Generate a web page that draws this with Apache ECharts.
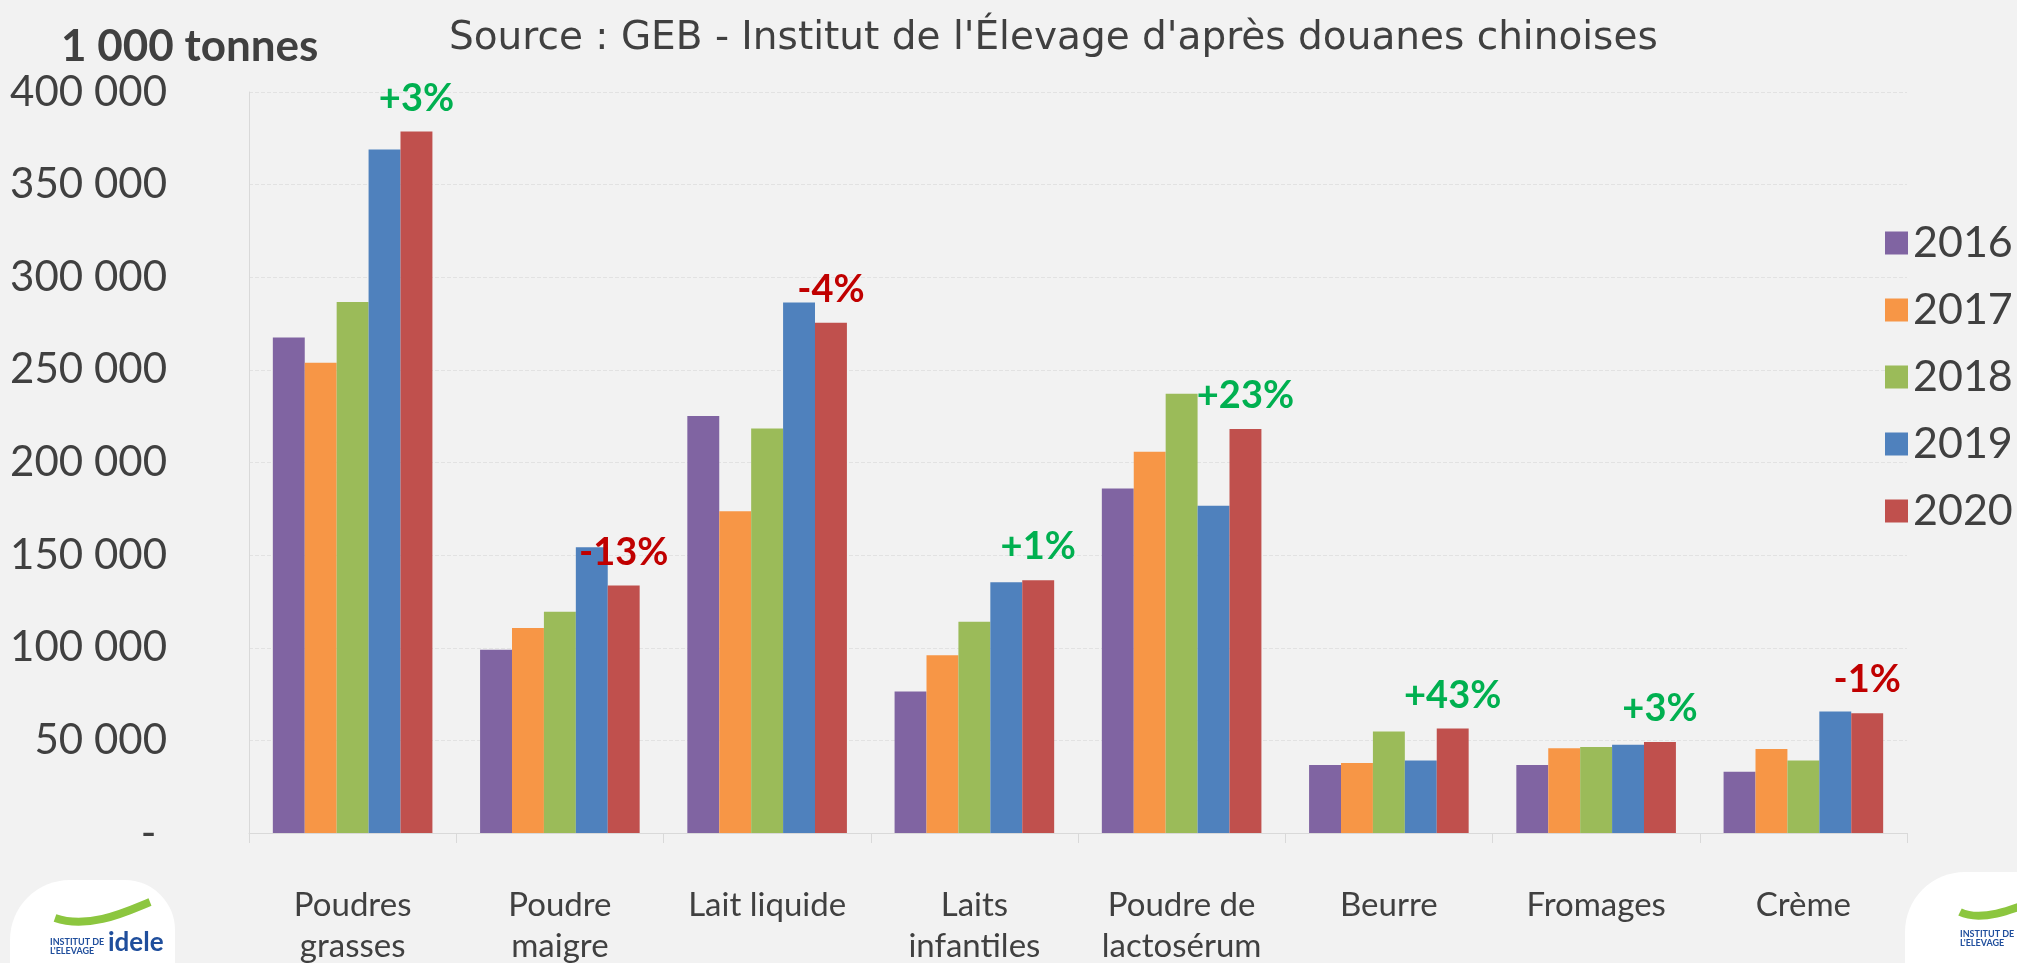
<!DOCTYPE html>
<html>
<head>
<meta charset="utf-8">
<script src="https://cdn.jsdelivr.net/npm/echarts@6/dist/echarts.min.js"></script>
<style>
  html, body { margin: 0; padding: 0; background: #f2f2f2; }
  #main { width: 2017px; height: 963px; }
</style>
</head>
<body>
<div id="main"></div>
<script>
// categories (axe x)
var produits = ['Poudres\ngrasses', 'Poudre\nmaigre', 'Lait liquide', 'Laits\ninfantiles',
                'Poudre de\nlactosérum', 'Beurre', 'Fromages', 'Crème'];
var annees = ['2016', '2017', '2018', '2019', '2020'];
// importations chinoises, tonnes
var v2016 = [267500, 98900, 225100, 76400, 185900, 36700, 36700, 33100];
var v2017 = [253800, 110600, 173700, 96000, 205800, 37800, 45800, 45300];
var v2018 = [286600, 119500, 218300, 114100, 237100, 54800, 46400, 39200];
var v2019 = [369000, 154300, 286400, 135400, 176700, 39200, 47600, 65600];
var v2020 = [378700, 133600, 275400, 136500, 218100, 56400, 49100, 64700];
// evolution 2020/2019
var evol = ['+3%', '-13%', '-4%', '+1%', '+23%', '+43%', '+3%', '-1%'];
var yTicks = [0, 50000, 100000, 150000, 200000, 250000, 300000, 350000, 400000];

var couleurs = ['#8064a2', '#f79646', '#9bbb59', '#4f81bd', '#c0504d'];
var valeurs = [v2016, v2017, v2018, v2019, v2020];
var police = 'Lato, "DejaVu Sans", sans-serif';
var policeLarge = '"DejaVu Sans", Lato, sans-serif';

function fmt(v) {
  if (v === 0) return '- ';
  return String(v).replace(/\B(?=(\d{3})+(?!\d))/g, ' ');
}

var series = [];
for (var s = 0; s < annees.length; s++) {
  var d = valeurs[s];
  if (s === annees.length - 1) {
    d = valeurs[s].map(function (v, i) {
      return {
        value: v,
        label: {
          show: true,
          position: 'top',
          distance: 14,
          formatter: evol[i],
          fontFamily: police,
          fontWeight: 'bold',
          fontSize: 38,
          color: evol[i].charAt(0) === '-' ? '#c00000' : '#00b050'
        }
      };
    });
  }
  series.push({
    name: annees[s],
    type: 'bar',
    barGap: '0%',
    barCategoryGap: '23%',
    itemStyle: { color: couleurs[s] },
    emphasis: { disabled: true },
    data: d
  });
}

var myChart = echarts.init(document.getElementById('main'));
var option = {
  backgroundColor: '#f2f2f2',
  animation: false,
  color: couleurs,
  title: [{
    text: "Source : GEB - Institut de l'Élevage d'après douanes chinoises",
    left: 444, top: 14,
    textStyle: { fontFamily: policeLarge, fontWeight: 'normal', fontSize: 39, color: '#404040' }
  }, {
    text: '1 000 tonnes',
    left: 56, top: 20,
    textStyle: { fontFamily: police, fontWeight: 'bold', fontSize: 44, color: '#404040' }
  }],
  legend: {
    data: annees,
    orient: 'vertical',
    left: 1880, top: 216,
    itemWidth: 23, itemHeight: 23,
    itemGap: 23,
    icon: 'rect',
    textStyle: { fontFamily: police, fontSize: 43, color: '#404040', lineHeight: 44 }
  },
  grid: { left: 249, right: 110, top: 92, bottom: 130, containLabel: false, outerBoundsMode: 'none' },
  xAxis: {
    type: 'category',
    data: produits,
    axisLine: { lineStyle: { color: '#d9d9d9', width: 1 } },
    axisTick: { show: true, length: 10, lineStyle: { color: '#d9d9d9' } },
    axisLabel: { interval: 0, margin: 52, fontFamily: police, fontSize: 33, color: '#404040', lineHeight: 41 },
    splitLine: { show: false }
  },
  yAxis: {
    type: 'value',
    min: 0, max: 400000, interval: 50000,
    axisLine: { show: true, lineStyle: { color: '#d9d9d9' } },
    axisTick: { show: false },
    axisLabel: { margin: 82, fontFamily: police, fontSize: 42, color: '#404040', formatter: fmt },
    splitLine: { lineStyle: { color: '#e2e2e2', type: 'dashed', width: 1 } }
  },
  graphic: [{
    type: 'group', left: 10, top: 880,
    children: [
      { type: 'rect', shape: { x: 0, y: 0, width: 165, height: 120, r: [60, 50, 10, 10] }, style: { fill: '#ffffff' } },
      { type: 'text', x: 40, y: 58, style: { text: "INSTITUT DE\nL'ELEVAGE", fontSize: 9, fontWeight: 'bold', fill: '#1f4e9c', fontFamily: police } },
      { type: 'text', x: 98, y: 50, style: { text: 'idele', fontSize: 26, fontWeight: 'bold', fill: '#1f4e9c', fontFamily: police } },
      { type: 'bezierCurve', shape: { x1: 45, y1: 38, x2: 140, y2: 22, cpx1: 80, cpy1: 50, cpx2: 120, cpy2: 30 }, style: { stroke: '#8cc63f', lineWidth: 8, fill: null } }
    ]
  }, {
    type: 'group', left: 1905, top: 872,
    children: [
      { type: 'rect', shape: { x: 0, y: 0, width: 140, height: 120, r: [60, 0, 0, 10] }, style: { fill: '#ffffff' } },
      { type: 'text', x: 55, y: 58, style: { text: "INSTITUT DE\nL'ELEVAGE", fontSize: 9, fontWeight: 'bold', fill: '#1f4e9c', fontFamily: police } },
      { type: 'bezierCurve', shape: { x1: 55, y1: 40, x2: 140, y2: 25, cpx1: 80, cpy1: 52, cpx2: 120, cpy2: 32 }, style: { stroke: '#8cc63f', lineWidth: 8, fill: null } }
    ]
  }],
  series: series
};
myChart.setOption(option);
</script>
</body>
</html>
